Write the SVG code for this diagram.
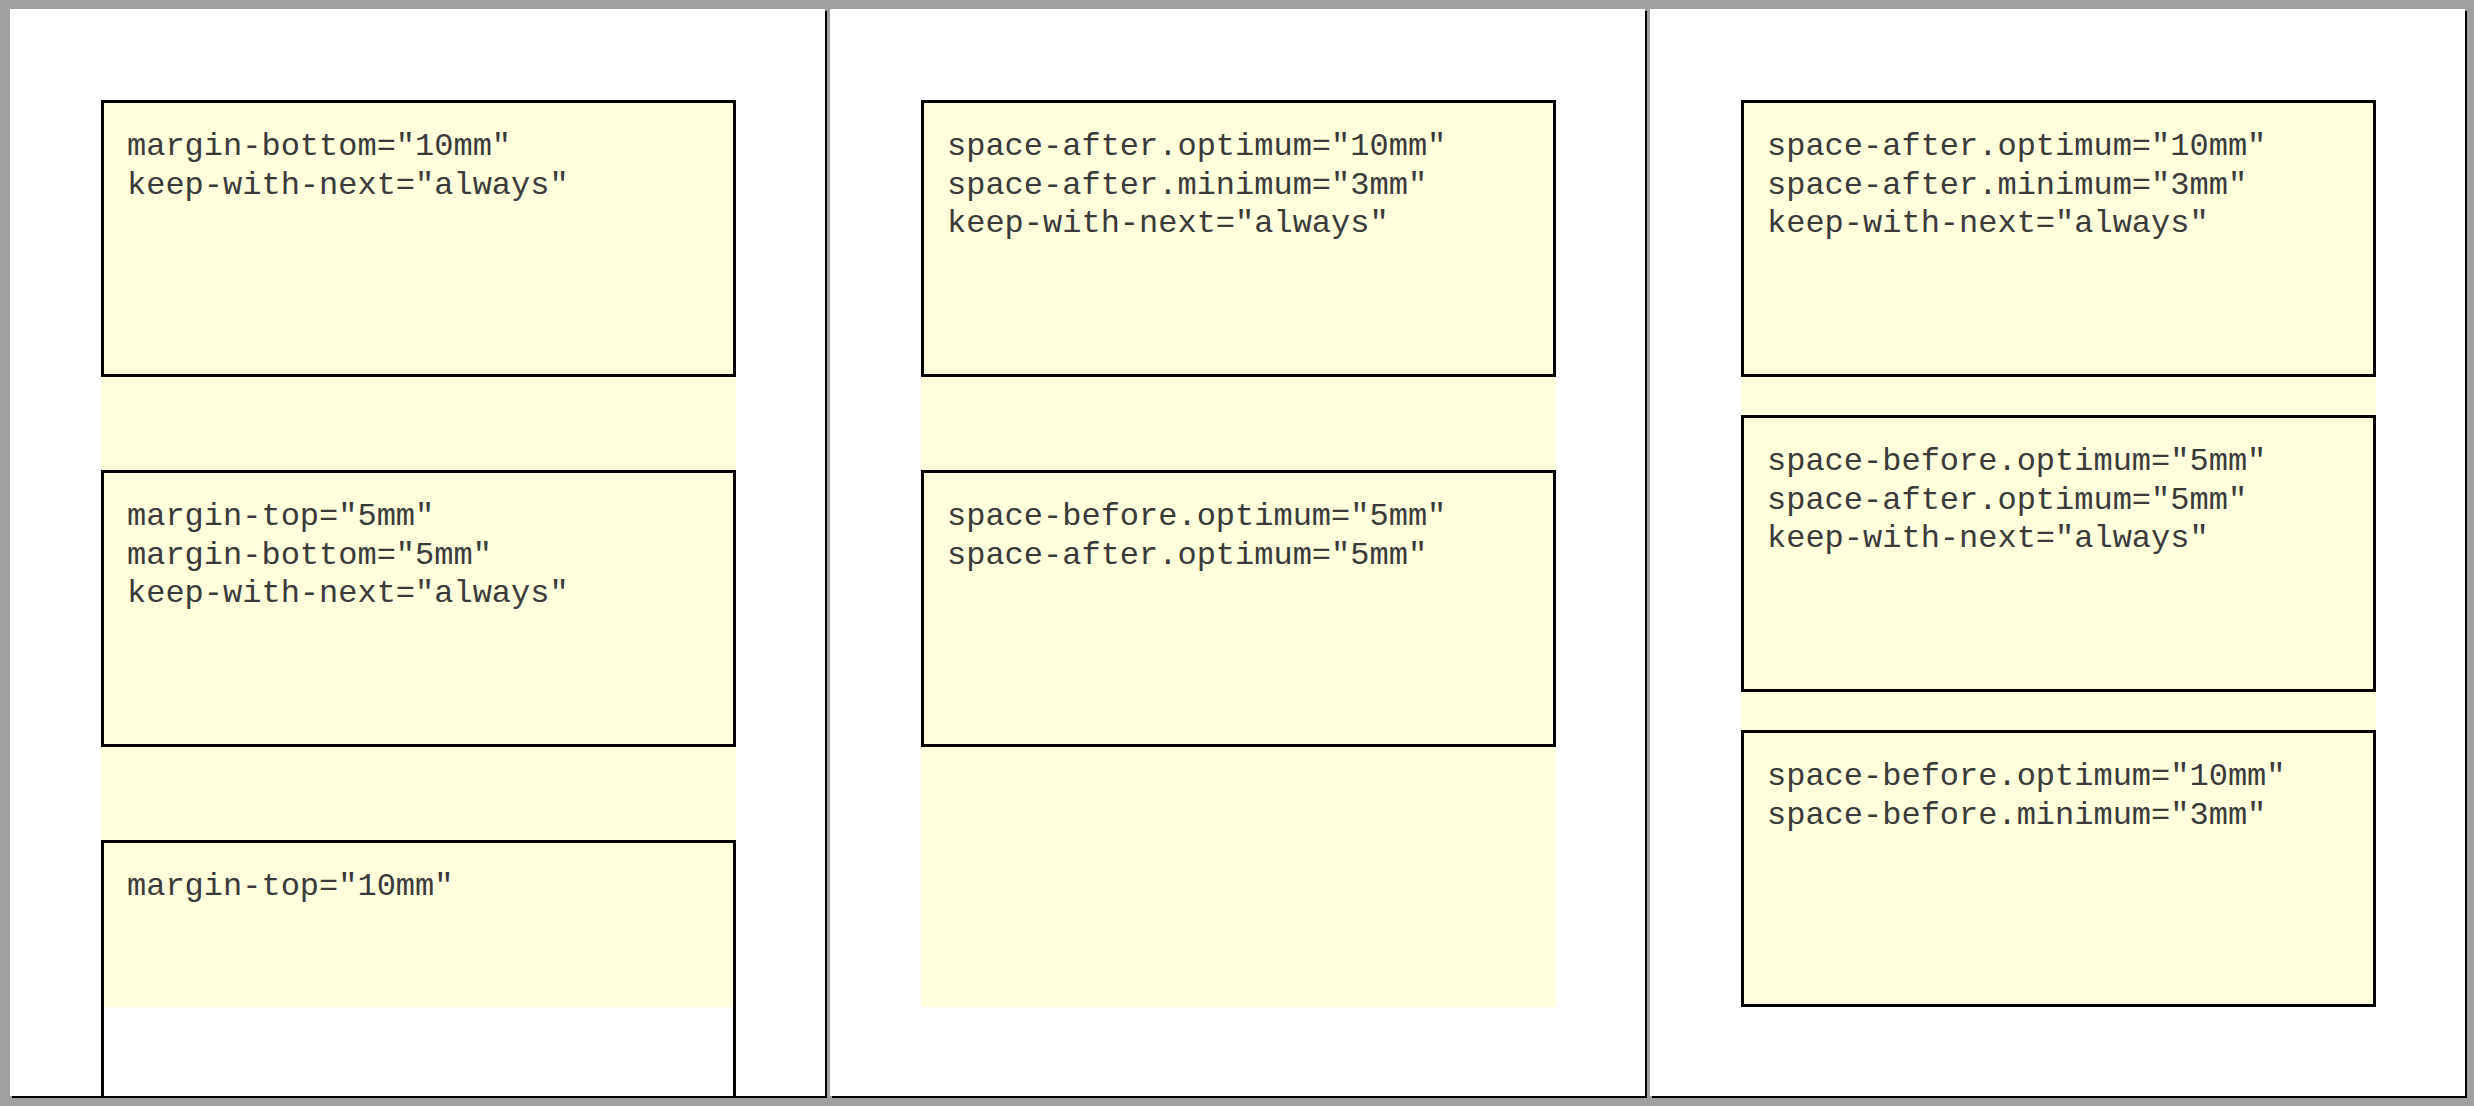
<svg xmlns="http://www.w3.org/2000/svg" width="2474" height="1106" viewBox="0 0 2474 1106">
<style>
.shadow{fill:#000}
.page{fill:#fff}
.area{fill:#ffffde}
.box{fill:#ffffde;stroke:#000;stroke-width:3}
.edge{fill:none;stroke:#000;stroke-width:3}
.t{font-family:"Liberation Mono","Courier New",monospace;font-size:32px;fill:#3a3a3a}
</style>
<defs>
<clipPath id="clip1"><rect x="10" y="9" width="815" height="1087"/></clipPath>
</defs>
<rect x="0" y="0" width="2474" height="1106" fill="#a0a0a0"/>

<g id="page1">
<rect class="shadow" x="12" y="11" width="815" height="1087"/>
<rect class="page" x="10" y="9" width="815" height="1087"/>
<rect class="area" x="101" y="100" width="635" height="907"/>
</g>
<g id="page2">
<rect class="shadow" x="832" y="11" width="815" height="1087"/>
<rect class="page" x="830" y="9" width="815" height="1087"/>
<rect class="area" x="921" y="100" width="635" height="907"/>
</g>
<g id="page3">
<rect class="shadow" x="1652" y="11" width="815" height="1087"/>
<rect class="page" x="1650" y="9" width="815" height="1087"/>
<rect class="area" x="1741" y="100" width="635" height="907"/>
</g>

<g id="p1-box1">
<rect class="box" x="102.5" y="101.5" width="632" height="274"/>
<text class="t" x="127" y="155">margin-bottom="10mm"</text>
<text class="t" x="127" y="193.7">keep-with-next="always"</text>
</g>
<g id="p1-box2">
<rect class="box" x="102.5" y="471.5" width="632" height="274"/>
<text class="t" x="127" y="525">margin-top="5mm"</text>
<text class="t" x="127" y="563.7">margin-bottom="5mm"</text>
<text class="t" x="127" y="602.4">keep-with-next="always"</text>
</g>
<g id="p1-box3" clip-path="url(#clip1)">
<path class="edge" d="M102.5 1110 V841.5 H734.5 V1110"/>
<text class="t" x="127" y="895">margin-top="10mm"</text>
</g>

<g id="p2-box1">
<rect class="box" x="922.5" y="101.5" width="632" height="274"/>
<text class="t" x="947" y="155">space-after.optimum="10mm"</text>
<text class="t" x="947" y="193.7">space-after.minimum="3mm"</text>
<text class="t" x="947" y="232.4">keep-with-next="always"</text>
</g>
<g id="p2-box2">
<rect class="box" x="922.5" y="471.5" width="632" height="274"/>
<text class="t" x="947" y="525">space-before.optimum="5mm"</text>
<text class="t" x="947" y="563.7">space-after.optimum="5mm"</text>
</g>

<g id="p3-box1">
<rect class="box" x="1742.5" y="101.5" width="632" height="274"/>
<text class="t" x="1767" y="155">space-after.optimum="10mm"</text>
<text class="t" x="1767" y="193.7">space-after.minimum="3mm"</text>
<text class="t" x="1767" y="232.4">keep-with-next="always"</text>
</g>
<g id="p3-box2">
<rect class="box" x="1742.5" y="416.5" width="632" height="274"/>
<text class="t" x="1767" y="470">space-before.optimum="5mm"</text>
<text class="t" x="1767" y="508.7">space-after.optimum="5mm"</text>
<text class="t" x="1767" y="547.4">keep-with-next="always"</text>
</g>
<g id="p3-box3">
<rect class="box" x="1742.5" y="731.5" width="632" height="274"/>
<text class="t" x="1767" y="785">space-before.optimum="10mm"</text>
<text class="t" x="1767" y="823.7">space-before.minimum="3mm"</text>
</g>

<g id="connectors"></g>
</svg>
